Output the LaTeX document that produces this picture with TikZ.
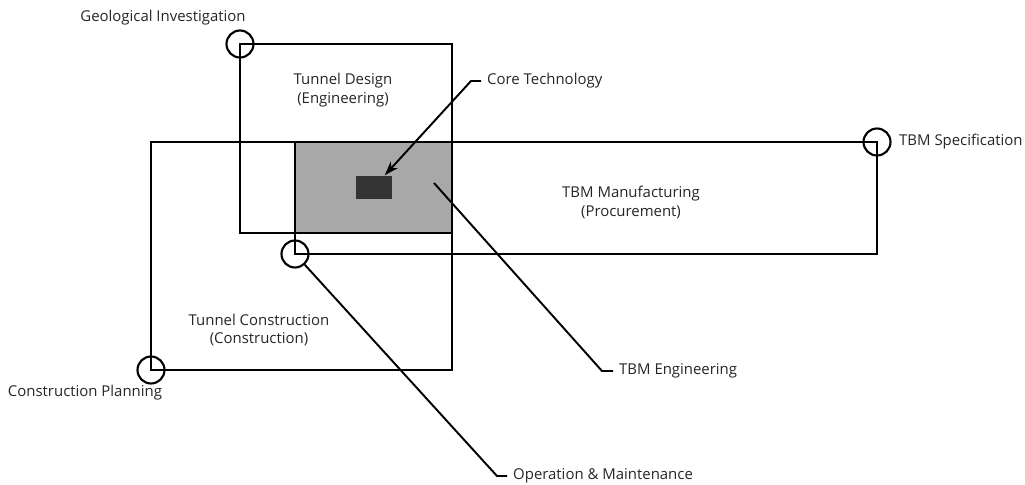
\documentclass[tikz,border=0pt]{standalone}
\usepackage{fontspec}
\setmainfont{Open Sans}
\usetikzlibrary{arrows.meta}

\begin{document}
\begin{tikzpicture}[x=0.02cm,y=-0.02cm]
\useasboundingbox (0,0) rectangle (1025,484);

% shared area and core block
\fill[black!34] (295,142) rectangle (452,233);
\node[fill=black!80,inner sep=0pt,minimum width=0.74cm,minimum height=0.46cm] (core) at (374,187) {};

\begin{scope}[line width=1.4pt]
    \draw (240,44) rectangle (452,233);
    \draw (151,142) rectangle (452,370);
    \draw (295,142) rectangle (877,254);
\end{scope}

\begin{scope}[every node/.style={circle,draw,line width=1.2pt,minimum size=0.54cm,inner sep=0pt}]
    \node (geo) at (240,44) {};
    \node (om) at (295,254) {};
    \node (spec) at (877,142) {};
    \node (plan) at (151,370) {};
\end{scope}

\begin{scope}[every node/.style={text=black!85,align=center,font=\fontsize{8.5}{10.8}\selectfont}]
    \node (tgeo) at (163,18) {Geological Investigation};
    \node (tdesign) at (343,90) {Tunnel Design\\(Engineering)};
    \node[anchor=west] (tcore) at (481,81) {Core Technology};
    \node[anchor=west] (tspec) at (893,142) {TBM Specification};
    \node (tmanu) at (631,202) {TBM Manufacturing\\(Procurement)};
    \node (tcons) at (259,330) {Tunnel Construction\\(Construction)};
    \node (tplan) at (85,393) {Construction Planning};
    \node[anchor=west] (teng) at (613,371) {TBM Engineering};
    \node[anchor=west] (tom) at (507,476) {Operation \& Maintenance};
\end{scope}

\coordinate (e0) at (434,183);

\begin{scope}[>={Stealth[length=8pt,width=5.5pt]},line width=1.1pt]
    \draw [->] (tcore.west) -- ([xshift=-0.2cm]tcore.west) -- (core);
    \draw (e0) -- ([xshift=-0.22cm]teng.west) -- (teng.west);
    \draw (om) -- ([xshift=-0.2cm]tom.west) -- (tom.west);
\end{scope}
\end{tikzpicture}
\end{document}
